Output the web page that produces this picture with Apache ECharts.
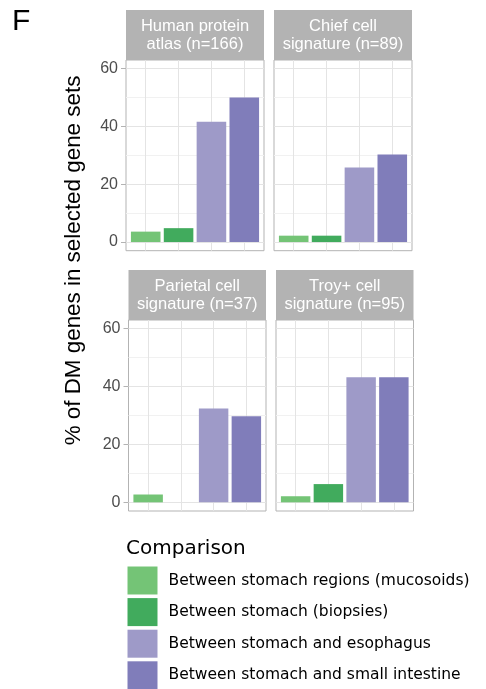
<!DOCTYPE html>
<html>
<head>
<meta charset="utf-8">
<script src="https://cdn.jsdelivr.net/npm/echarts@6/dist/echarts.min.js"></script>
<style>
html, body { margin: 0; padding: 0; background: #fff; }
#chart { width: 486px; height: 689px; }
</style>
</head>
<body>
<div id="chart"></div>
<script>
// comparisons (legend order) and colours
var comparisons = [
    'Between stomach regions (mucosoids)',
    'Between stomach (biopsies)',
    'Between stomach and esophagus',
    'Between stomach and small intestine'
];
var colors = ['#74c476', '#41ab5d', '#9e9ac8', '#807dba'];
var panelTitles = [
    'Human protein\natlas (n=166)',
    'Chief cell\nsignature (n=89)',
    'Parietal cell\nsignature (n=37)',
    'Troy+ cell\nsignature (n=95)'
];
// % of DM genes in each gene set, in comparison order
var humanProteinAtlas = [3.6, 4.8, 41.6, 50.0];
var chiefCell = [2.2, 2.2, 25.8, 30.3];
var parietalCell = [2.7, 0, 32.4, 29.7];
var troyCell = [2.1, 6.3, 43.2, 43.2];
var yTicks = [0, 20, 40, 60];
var yMinor = [10, 30, 50];

var panelValues = [humanProteinAtlas, chiefCell, parietalCell, troyCell];

// panel boxes (plot area), strip sits on top
var boxes = [
    { left: 126, top: 60, width: 138, height: 190.7 },
    { left: 274, top: 60, width: 138, height: 190.7 },
    { left: 128.5, top: 320, width: 137.5, height: 191 },
    { left: 276, top: 320, width: 137.5, height: 191 }
];
var stripH = 50;
var fontMain = '"Liberation Sans", Arial, sans-serif';
var fontLegend = '"DejaVu Sans", sans-serif';

var myChart = echarts.init(document.getElementById('chart'));

var grids = [], xAxes = [], yAxes = [], series = [], graphics = [];

boxes.forEach(function (b, p) {
    grids.push({
        left: b.left, top: b.top, width: b.width, height: b.height,
        show: true, borderColor: '#b3b3b3', borderWidth: 1,
        backgroundColor: 'transparent'
    });
    xAxes.push({
        gridIndex: p, type: 'value', min: 0.4, max: 4.6,
        axisLine: { show: false }, axisTick: { show: false },
        axisLabel: { show: false }, splitLine: { show: false }
    });
    var showY = p % 2 === 0;
    yAxes.push({
        gridIndex: p, type: 'value', min: -3, max: 63,
        axisLine: { show: false },
        splitLine: { show: false },
        axisTick: {
            show: showY, customValues: yTicks, length: 5,
            lineStyle: { color: '#b3b3b3', width: 1 }
        },
        axisLabel: {
            show: showY, customValues: yTicks, margin: 8,
            color: '#4d4d4d', fontSize: 16, fontFamily: fontMain
        }
    });

    // gridlines (drawn under the bars)
    var lines = [];
    yTicks.forEach(function (v) {
        lines.push({ yAxis: v, lineStyle: { color: '#e4e4e4', width: 1 } });
    });
    yMinor.forEach(function (v) {
        lines.push({ yAxis: v, lineStyle: { color: '#f1f1f1', width: 1 } });
    });
    comparisons.forEach(function (c, i) {
        lines.push({ xAxis: i + 1, lineStyle: { color: '#e4e4e4', width: 1 } });
    });

    var bw = 0.9 * b.width / 4.2;
    comparisons.forEach(function (name, c) {
        var s = {
            type: 'bar',
            name: name,
            xAxisIndex: p,
            yAxisIndex: p,
            stack: 'panel' + p,
            barWidth: bw,
            itemStyle: { color: colors[c] },
            data: [[c + 1, panelValues[p][c]]]
        };
        if (c === 0) {
            s.markLine = {
                silent: true, z: 1, symbol: ['none', 'none'],
                label: { show: false },
                lineStyle: { type: 'solid' },
                data: lines
            };
        }
        series.push(s);
    });

    // facet strip
    graphics.push({
        type: 'rect',
        shape: { x: b.left, y: b.top - stripH, width: b.width, height: stripH },
        style: { fill: '#b3b3b3' }
    });
    graphics.push({
        type: 'text',
        x: b.left + b.width / 2, y: b.top - stripH / 2,
        style: {
            text: panelTitles[p], fill: '#ffffff', font: '16.5px ' + fontMain,
            align: 'center', verticalAlign: 'middle', lineHeight: 18
        }
    });
});

// y axis title
graphics.push({
    type: 'text',
    x: 73.5, y: 260.5, rotation: Math.PI / 2,
    style: {
        text: '% of DM genes in selected gene sets', fill: '#000',
        font: '22.4px ' + fontMain, align: 'center', verticalAlign: 'middle'
    }
});
// panel letter
graphics.push({
    type: 'text',
    x: 12, y: 22,
    style: { text: 'F', fill: '#000', font: '30px ' + fontMain, align: 'left', verticalAlign: 'middle' }
});
// legend title
graphics.push({
    type: 'text',
    x: 126, y: 549,
    style: { text: 'Comparison', fill: '#000', font: '20px ' + fontLegend, align: 'left', verticalAlign: 'middle' }
});

var option = {
    animation: false,
    grid: grids,
    xAxis: xAxes,
    yAxis: yAxes,
    legend: {
        data: comparisons,
        orient: 'vertical',
        left: 127.5,
        top: 566.5,
        height: 200,
        padding: 0,
        icon: 'rect',
        itemWidth: 30,
        itemHeight: 28,
        itemGap: 3.6,
        selectedMode: false,
        textStyle: {
            fontFamily: fontLegend, fontSize: 15.5, color: '#000',
            padding: [0, 0, 0, 6]
        }
    },
    graphic: graphics,
    series: series
};

myChart.setOption(option);
</script>
</body>
</html>
